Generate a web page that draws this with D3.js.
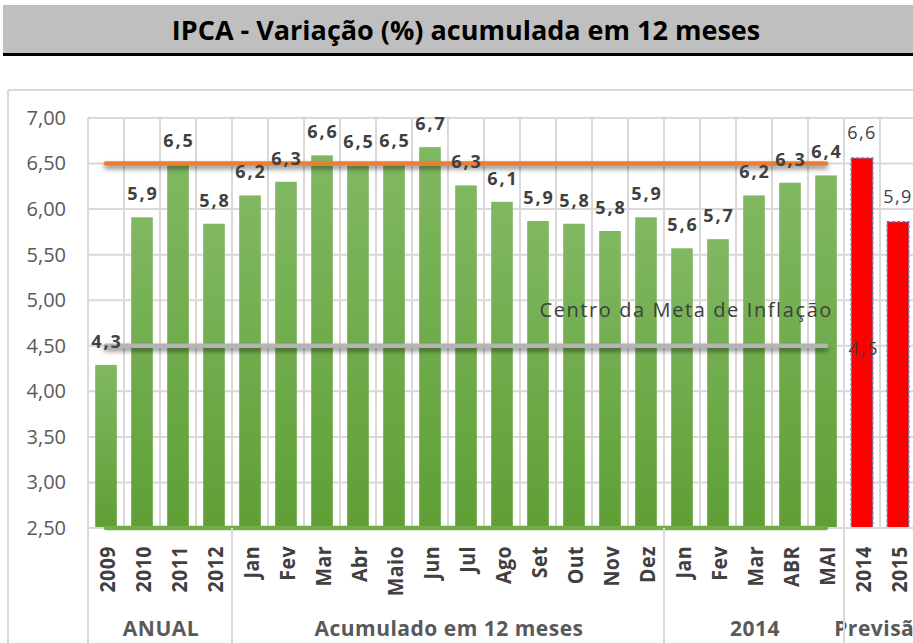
<!DOCTYPE html>
<html>
<head>
<meta charset="utf-8">
<script src="https://cdn.jsdelivr.net/npm/d3@7"></script>
<style>
  html, body { margin: 0; padding: 0; background: #fff; }
  svg { display: block; }
</style>
</head>
<body>
<svg id="chart" width="913" height="643"></svg>
<script>
// IPCA: 12-month accumulated variation (%)
const categories = ["2009", "2010", "2011", "2012",
  "Jan", "Fev", "Mar", "Abr", "Maio", "Jun", "Jul", "Ago", "Set", "Out", "Nov", "Dez",
  "Jan", "Fev", "Mar", "ABR", "MAI",
  "2014", "2015"];
const groupNames = ["ANUAL", "Acumulado em 12 meses", "2014", "Previsão"];
const groupSizes = [4, 12, 5, 2];
const ipcaValues = [4.29, 5.91, 6.50, 5.84,
  6.15, 6.30, 6.59, 6.48, 6.50, 6.68, 6.26, 6.08, 5.87, 5.84, 5.76, 5.91,
  5.57, 5.67, 6.15, 6.29, 6.37];
const forecastValues = [6.56, 5.86];
const metaUpper = 6.5;
const metaCenter = 4.5;
const metaLower = 2.5;
const yTicks = [2.5, 3, 3.5, 4, 4.5, 5, 5.5, 6, 6.5, 7];

const svg = d3.select("#chart");
const W = 913, H = 643;
const plot = { left: 88, right: 916, top: 118, bottom: 528 };
const fmt1 = v => d3.format(".1f")(v).replace(".", ",");
const fmt2 = v => d3.format(".2f")(v).replace(".", ",");
const SANS = "'Open Sans', sans-serif";

const defs = svg.append("defs");
const grad = defs.append("linearGradient").attr("id", "barGrad")
  .attr("x1", 0).attr("y1", 0).attr("x2", 0).attr("y2", 1);
grad.append("stop").attr("offset", "0%").attr("stop-color", "#80b862");
grad.append("stop").attr("offset", "100%").attr("stop-color", "#5f9f35");
const shadow = defs.append("filter").attr("id", "lineShadow")
  .attr("filterUnits", "userSpaceOnUse")
  .attr("x", 0).attr("y", 0).attr("width", W).attr("height", H);
shadow.append("feDropShadow").attr("dx", 0).attr("dy", 3).attr("stdDeviation", 2.4)
  .attr("flood-color", "#000").attr("flood-opacity", 0.5);

// Title banner
svg.append("rect").attr("x", 3).attr("y", 5).attr("width", W - 3).attr("height", 48).attr("fill", "#bfbfbf");
svg.append("rect").attr("x", 3).attr("y", 53).attr("width", W - 3).attr("height", 3).attr("fill", "#000");
svg.append("text").attr("x", 466).attr("y", 30).attr("dy", "0.36em")
  .attr("text-anchor", "middle")
  .attr("font-family", SANS)
  .attr("font-weight", "bold").attr("font-size", 27).attr("fill", "#000")
  .text("IPCA - Variação (%) acumulada em  12 meses");

// Chart area frame
svg.append("line").attr("x1", 8).attr("x2", W).attr("y1", 90).attr("y2", 90)
  .attr("stroke", "#d9d9d9").attr("stroke-width", 2);
svg.append("line").attr("x1", 8).attr("x2", 8).attr("y1", 90).attr("y2", H)
  .attr("stroke", "#d9d9d9").attr("stroke-width", 2);

// Scales
const idx = d3.range(categories.length);
const x = d3.scaleBand().domain(idx).range([plot.left, plot.right])
  .paddingInner(0.4).paddingOuter(0.2);
const step = x.step();
const cx = i => x(i) + x.bandwidth() / 2;
const edge = i => x(i) - step * x.paddingInner() / 2;
const y = d3.scaleLinear().domain([2.5, 7]).range([plot.bottom, plot.top]);

// Gridlines
const grid = svg.append("g").attr("stroke", "#d9d9d9").attr("stroke-width", 2);
grid.selectAll(".h").data(yTicks).join("line")
  .attr("x1", plot.left).attr("x2", W).attr("y1", d => y(d)).attr("y2", d => y(d));
grid.selectAll(".v").data(d3.range(categories.length + 1)).join("line")
  .attr("x1", i => i < categories.length ? edge(i) : edge(i - 1) + step)
  .attr("x2", i => i < categories.length ? edge(i) : edge(i - 1) + step)
  .attr("y1", plot.top).attr("y2", plot.bottom);

// Y axis labels
const yAxis = d3.axisLeft(y).tickValues(yTicks).tickFormat(fmt2).tickSize(0).tickPadding(22);
const yg = svg.append("g").attr("transform", `translate(${plot.left},0)`).call(yAxis);
yg.select(".domain").remove();
yg.selectAll("text").attr("font-family", SANS)
  .attr("font-size", 20).attr("fill", "#595959");

// Green bars (observed)
svg.append("g").selectAll("rect").data(ipcaValues).join("rect")
  .attr("x", (d, i) => x(i)).attr("width", x.bandwidth())
  .attr("y", d => y(d)).attr("height", d => y(2.5) - y(d))
  .attr("fill", "url(#barGrad)");

// Red bars (forecast)
const fOff = ipcaValues.length;
svg.append("g").selectAll("rect").data(forecastValues).join("rect")
  .attr("x", (d, i) => x(fOff + i)).attr("width", x.bandwidth())
  .attr("y", d => y(d)).attr("height", d => y(2.5) - y(d))
  .attr("fill", "#ff0000").attr("stroke", "#5b7fd0").attr("stroke-width", 1.5)
  .attr("stroke-dasharray", "3,2");

// Category axis line
svg.append("line").attr("x1", plot.left).attr("x2", W).attr("y1", plot.bottom).attr("y2", plot.bottom)
  .attr("stroke", "#d9d9d9").attr("stroke-width", 2);

// Target lines (upper, center, lower)
const lineIdx = d3.range(ipcaValues.length);
const metaLine = (val) => d3.line().x(i => cx(i)).y(() => y(val))(lineIdx);
[[metaUpper, "#ed7d31"], [metaCenter, "#b4b4b4"], [metaLower, "#70ad47"]].forEach(([v, c]) => {
  svg.append("path").attr("d", metaLine(v)).attr("fill", "none")
    .attr("stroke", c).attr("stroke-width", 4.5).attr("stroke-linecap", "round")
    .attr("filter", v === metaLower ? null : "url(#lineShadow)");
});

// Value labels
svg.append("g").selectAll("text").data(ipcaValues).join("text")
  .attr("x", (d, i) => cx(i) + 1).attr("y", d => y(d) - 17)
  .attr("text-anchor", "middle")
  .attr("font-family", SANS).attr("font-weight", "bold")
  .attr("font-size", 18).attr("letter-spacing", 2).attr("fill", "#404040")
  .text(fmt1);
svg.append("g").selectAll("text").data(forecastValues).join("text")
  .attr("x", (d, i) => cx(fOff + i)).attr("y", d => y(d) - 19)
  .attr("text-anchor", "middle")
  .attr("font-family", SANS)
  .attr("font-size", 18).attr("letter-spacing", 1.4).attr("fill", "#404040")
  .text(fmt1);

// Target center annotation
svg.append("text").attr("x", cx(ipcaValues.length - 1) + 7).attr("y", y(metaCenter) - 29)
  .attr("text-anchor", "end")
  .attr("font-family", SANS).attr("font-size", 20)
  .attr("fill", "#404040").attr("letter-spacing", 1.6)
  .text("Centro da Meta de Inflação");
svg.append("text").attr("x", cx(fOff) + 2).attr("y", y(metaCenter) + 9)
  .attr("text-anchor", "middle")
  .attr("font-family", SANS).attr("font-size", 18)
  .attr("fill", "#404040").attr("letter-spacing", 2)
  .text(fmt1(metaCenter));

// Category labels (rotated, slightly condensed)
svg.append("g").selectAll("text").data(categories).join("text")
  .attr("transform", (d, i) => `translate(${cx(i) + 1},${plot.bottom + 18}) rotate(-90) scale(0.89,1)`)
  .attr("dy", "0.36em").attr("text-anchor", "end")
  .attr("font-family", SANS).attr("font-weight", "bold")
  .attr("font-size", 22).attr("letter-spacing", 0.5).attr("fill", "#404040")
  .text(d => d);

// Group separators and labels
let start = 0;
const sepX = [edge(0)];
groupNames.forEach((g, k) => {
  const end = start + groupSizes[k];
  const x0 = edge(start), x1 = end < categories.length ? edge(end) : edge(end - 1) + step;
  if (end < categories.length) sepX.push(x1);
  svg.append("text").attr("x", (x0 + x1) / 2 + 1).attr("y", 628).attr("dy", "0.36em")
    .attr("text-anchor", "middle")
    .attr("font-family", SANS).attr("font-weight", "bold")
    .attr("font-size", 21).attr("letter-spacing", 0.5).attr("fill", "#595959")
    .text(g);
  start = end;
});
svg.append("g").selectAll("line").data(sepX).join("line")
  .attr("x1", d => d).attr("x2", d => d).attr("y1", plot.bottom).attr("y2", H)
  .attr("stroke", "#d9d9d9").attr("stroke-width", 2);
</script>
</body>
</html>
